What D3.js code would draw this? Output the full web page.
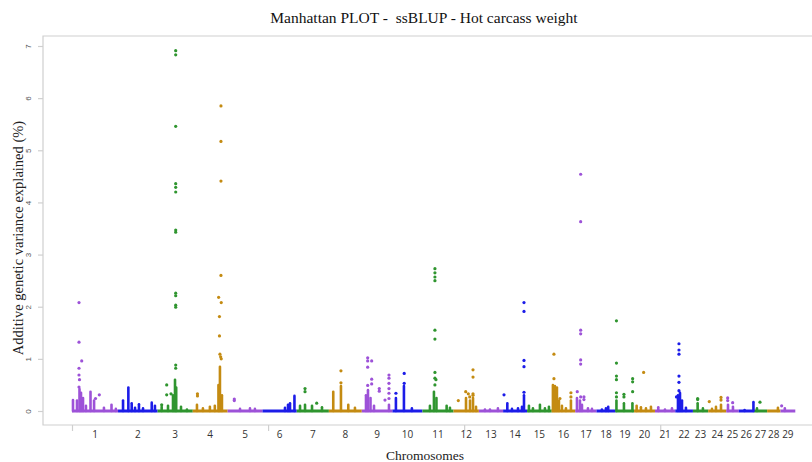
<!DOCTYPE html>
<html>
<head>
<meta charset="utf-8">
<script src="https://cdn.jsdelivr.net/npm/d3@7"></script>
<style>
  html, body { margin: 0; padding: 0; background: #ffffff; }
  svg { display: block; }
</style>
</head>
<body>
<svg id="chart" width="812" height="462"></svg>
<script>
// ---------------- DATA ----------------
const chrLabels = ["1","2","3","4","5","6","7","8","9","10","11","12","13","14","15",
  "16","17","18","19","20","21","22","23","24","25","26","27","28","29"];
// chromosome lengths (Mb)
const chrLengthsMb = [158.5,136.2,121.0,120.0,120.1,117.8,110.7,113.3,105.5,103.3,107.0,
  87.2,83.5,82.4,85.0,81.0,73.2,65.8,63.4,72.0,69.9,60.8,52.5,62.3,43.0,52.0,45.6,45.9,51.1];
const chrPalette = ["#9d52d8", "#1c1ce8", "#2f952f", "#c48b12"];
const yTickValues = [0,1,2,3,4,5,6,7];
const xTickValuesMb = [0, 675, 1350, 2025];

// isolated SNPs: [chromosome, position (Mb), % variance]
const snpPoints = [
  [1,24.1,2.08],[1,24.1,1.32],[1,33.4,0.96],[1,24.1,0.82],[1,24.1,0.69],[1,25.8,0.6],[1,24.1,0.46],[1,94,0.31],[1,81,0.24],
  [3,62.3,6.91],[3,62.3,6.83],[3,62.3,5.46],[3,62.3,4.36],[3,62.3,4.29],[3,62.3,4.20],[3,62.3,3.47],[3,62.3,3.43],
  [3,62.3,2.26],[3,62.3,2.21],[3,62.3,2.03],[3,62.3,1.99],[3,62.3,0.88],[3,62.3,0.82],[3,31.3,0.5],[3,46.1,0.33],[3,31.3,0.31],[3,14.1,0.12],
  [4,97.1,5.85],[4,97.1,5.17],[4,97.1,4.41],[4,97.1,2.60],[4,89.1,2.18],[4,98.1,2.08],[4,91.9,1.81],[4,91.9,1.44],
  [4,93.6,1.09],[4,96,1.04],[4,98,1.0],[4,16.2,0.33],[4,16.2,0.29],
  [5,23,0.23],[5,23,0.2],
  [7,28.6,0.43],[7,28.6,0.37],[7,68.8,0.15],
  [8,41.6,0.77],[8,41.6,0.54],
  [9,20.3,1.02],[9,20.3,0.96],[9,34.1,0.96],[9,20.3,0.84],[9,34.1,0.61],[9,34.1,0.52],[9,20.3,0.49],[9,60.2,0.43],[9,60.2,0.38],
  [9,93.6,0.69],[9,93.6,0.63],[9,93.6,0.53],[9,93.6,0.43],[9,93.6,0.34],[9,93.6,0.24],[9,79.9,0.21],
  [10,12,0.34],[10,40.6,0.72],[10,40.6,0.53],
  [11,43,2.73],[11,43,2.65],[11,43,2.57],[11,43,2.5],[11,43,1.55],[11,43,1.38],[11,43,0.74],[11,43,0.63],[11,46.5,0.6],[11,43,0.5],
  [12,16.5,0.2],[12,42,0.37],[12,50.9,0.33],[12,55.8,0.27],[12,67.1,0.79],[12,67.1,0.65],[12,67.1,0.33],[12,67.1,0.3],
  [14,3.1,0.31],[14,71.9,2.08],[14,71.9,1.91],[14,71.9,0.97],[14,71.9,0.85],[14,71.9,0.36],
  [16,7.6,1.09],[16,7.6,0.62],[16,28.2,0.24],[16,66.1,0.35],[16,66.1,0.27],
  [17,18.6,4.54],[17,18.6,3.63],[17,18.6,1.55],[17,18.6,1.48],[17,18.6,0.98],[17,18.6,0.9],[17,6.9,0.37],[17,18.6,0.27],[17,29.9,0.27],[17,29.9,0.22],
  [19,2.8,1.73],[19,2.8,0.92],[19,2.8,0.67],[19,2.8,0.6],[19,2.8,0.35],[19,2.8,0.27],[19,28.6,0.32],[19,28.6,0.27],
  [19,58.5,0.62],[19,58.5,0.56],[19,58.5,0.37],
  [20,33,0.74],
  [22,12.7,1.29],[22,12.7,1.17],[22,12.7,1.09],[22,12.7,0.67],[22,12.7,0.55],[22,12.7,0.39],[22,4.1,0.27],
  [23,16.2,0.24],[23,16.2,0.22],
  [24,3.8,0.18],[24,44.1,0.26],[24,44.1,0.21],
  [25,4.8,0.25],[25,4.8,0.2],[25,22,0.16],
  [27,21,0.17],
  [29,4.1,0.1]
];

// dense SNP stacks (many SNPs from 0 up to top): [chromosome, position (Mb), top %]
const snpStacks = [
  [1,3.4,0.21],[1,17.2,0.2],[1,25.8,0.42],[1,31,0.35],[1,37.9,0.25],[1,48,0.1],[1,63.7,0.37],[1,76,0.2],[1,110,0.06],[1,136,0.12],[1,151,0.04],
  [2,17.2,0.2],[2,35.5,0.45],[2,47,0.15],[2,58.5,0.06],[2,72,0.13],[2,86,0.05],[2,116,0.16],[2,127,0.1],
  [3,14,0.08],[3,35.8,0.1],[3,53,0.3],[3,59.9,0.6],[3,64,0.45],[3,80.5,0.08],[3,101,0.03],
  [4,14.5,0.12],[4,35,0.05],[4,59,0.08],[4,76,0.1],[4,88.5,0.5],[4,93.6,0.85],[4,100.5,0.3],
  [5,42.7,0.04],[5,77,0.05],[5,94,0.04],
  [6,77.4,0.06],[6,87.8,0.12],[6,94.7,0.15],[6,110,0.29],
  [7,11.4,0.1],[7,28.6,0.12],[7,52.7,0.1],[7,87,0.07],
  [8,15.1,0.37],[8,41.6,0.48],[8,66.8,0.12],[8,89.8,0.06],
  [9,14.5,0.3],[9,21.3,0.4],[9,30,0.25],[9,42,0.1],[9,93.6,0.12],
  [10,12,0.25],[10,39.6,0.48],[10,67,0.05],
  [11,25.8,0.1],[11,39.6,0.37],[11,48.2,0.25],[11,83.3,0.1],[11,94.7,0.06],
  [12,43,0.25],[12,56.8,0.2],[12,67.1,0.25],[12,77.4,0.08],
  [13,21,0.03],[13,38.2,0.03],[13,65.7,0.05],
  [14,14.5,0.15],[14,30.6,0.04],[14,51.3,0.05],[14,65,0.08],[14,71.9,0.3],
  [15,6.5,0.1],[15,20.3,0.05],[15,44.4,0.12],[15,61.6,0.05],[15,75.4,0.08],
  [16,4.1,0.5],[16,11,0.48],[16,17.9,0.45],[16,24.8,0.2],[16,35.1,0.1],[16,48.9,0.05],[16,66.1,0.2],
  [17,5.9,0.25],[17,16.2,0.2],[17,23.1,0.12],[17,43.7,0.05],[17,57.5,0.04],
  [18,18.6,0.03],[18,32.4,0.05],[18,40.3,0.08],
  [19,2.8,0.2],[19,28.6,0.15],[19,57.8,0.15],
  [20,8.9,0.1],[20,23.7,0.07],[20,41,0.05],[20,58.2,0.08],
  [21,11.4,0.07],[21,34.4,0.03],[21,58.5,0.05],
  [22,9.3,0.3],[22,16.2,0.35],[22,23.1,0.2],[22,36.8,0.06],
  [23,16.2,0.15],[23,34.4,0.05],
  [24,13,0.04],[24,26.8,0.08],[24,44.1,0.12],
  [25,5.9,0.12],[25,23,0.08],
  [26,20,0.02],[26,50.5,0.17],
  [27,10.7,0.05],
  [28,37.2,0.06],
  [29,15,0.05]
];

// ---------------- CHART ----------------
const svg = d3.select("#chart");
const frame = {left: 43, top: 36, bottom: 425, right: 820};

const chrStart = [];
let acc = 0;
chrLengthsMb.forEach(l => { chrStart.push(acc); acc += l; });
const genomeLen = acc;

const x = d3.scaleLinear().domain([0, genomeLen]).range([72, 795.3]);
const y = d3.scaleLinear().domain([0, 7]).range([411, 46]);
const color = c => chrPalette[(c - 1) % chrPalette.length];
const gx = (c, p) => x(chrStart[c - 1] + p);

// frame
const frameColor = "#cfcfcf";
svg.append("path")
  .attr("d", `M${frame.right},${frame.top}H${frame.left}V${frame.bottom}H${frame.right}`)
  .attr("fill", "none").attr("stroke", frameColor).attr("stroke-width", 1.2);

// Y axis
const yAxis = svg.append("g").attr("transform", `translate(${frame.left},0)`)
  .call(d3.axisLeft(y).tickValues(yTickValues).tickSize(5).tickPadding(0).tickFormat(d3.format("d")));
yAxis.select(".domain").remove();
yAxis.selectAll(".tick line").attr("stroke", frameColor).attr("stroke-width", 1.2);
yAxis.selectAll(".tick text")
  .attr("transform", "translate(-12,0) rotate(-90)")
  .attr("x", 0).attr("y", 0).attr("dy", "0")
  .attr("text-anchor", "middle")
  .attr("font-family", "Liberation Sans, Arial, sans-serif")
  .attr("font-size", 8).attr("fill", "#555");

// X axis ticks (on frame bottom)
const xAxis = svg.append("g").attr("transform", `translate(0,${frame.bottom})`)
  .call(d3.axisBottom(x).tickValues(xTickValuesMb).tickSize(6).tickFormat(""));
xAxis.select(".domain").remove();
xAxis.selectAll(".tick line").attr("stroke", frameColor).attr("stroke-width", 1.2);

// chromosome labels
svg.append("g").selectAll("text").data(chrLabels).join("text")
  .attr("x", (d, i) => x(chrStart[i] + chrLengthsMb[i] / 2))
  .attr("y", 438)
  .attr("text-anchor", "middle")
  .attr("font-family", "Open Sans, Liberation Sans, sans-serif")
  .attr("font-size", 10)
  .attr("fill", "#333")
  .text(d => d);

// baseline (dense SNPs near zero)
svg.append("g").selectAll("line").data(chrLengthsMb).join("line")
  .attr("x1", (d, i) => x(chrStart[i]))
  .attr("x2", (d, i) => x(chrStart[i] + d))
  .attr("y1", y(0)).attr("y2", y(0))
  .attr("stroke", (d, i) => color(i + 1))
  .attr("stroke-width", 3);

// stacks
svg.append("g").selectAll("line").data(snpStacks).join("line")
  .attr("x1", d => gx(d[0], d[1])).attr("x2", d => gx(d[0], d[1]))
  .attr("y1", y(0)).attr("y2", d => y(d[2]))
  .attr("stroke", d => color(d[0]))
  .attr("stroke-width", 2.6)
  .attr("stroke-linecap", "round");

// points
svg.append("g").selectAll("circle").data(snpPoints).join("circle")
  .attr("cx", d => gx(d[0], d[1]))
  .attr("cy", d => y(d[2]))
  .attr("r", 1.6)
  .attr("fill", d => color(d[0]));

// title & axis titles
svg.append("text").attr("x", 424).attr("y", 23)
  .attr("text-anchor", "middle")
  .style("white-space", "pre")
  .attr("xml:space", "preserve")
  .attr("font-family", "Liberation Serif, Times New Roman, serif")
  .attr("font-size", 15.5).attr("fill", "#111")
  .text("Manhattan PLOT -  ssBLUP - Hot carcass weight");

svg.append("text").attr("x", 425).attr("y", 460)
  .attr("text-anchor", "middle")
  .attr("font-family", "Liberation Serif, Times New Roman, serif")
  .attr("font-size", 13.5).attr("fill", "#222")
  .text("Chromosomes");

svg.append("text")
  .attr("transform", "translate(23,238) rotate(-90)")
  .attr("text-anchor", "middle")
  .attr("font-family", "Liberation Serif, Times New Roman, serif")
  .attr("font-size", 14.5).attr("fill", "#222")
  .text("Additive genetic variance explained (%)");
</script>
</body>
</html>
